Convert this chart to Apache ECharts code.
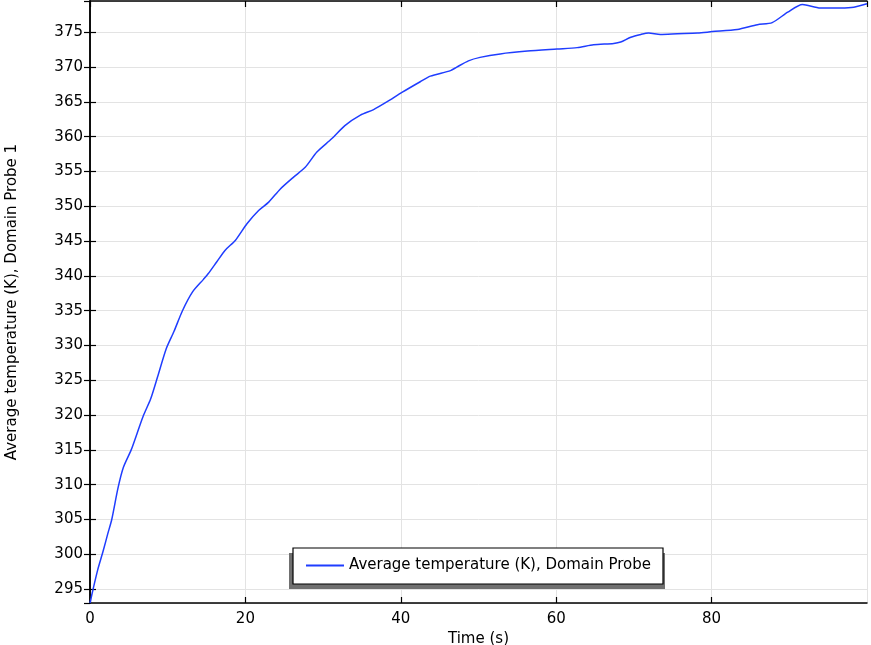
<!DOCTYPE html>
<html>
<head>
<meta charset="utf-8">
<script src="https://cdn.jsdelivr.net/npm/echarts@6/dist/echarts.min.js"></script>
<style>html,body{margin:0;padding:0;background:#fff}#c{width:871px;height:645px}</style>
</head>
<body>
<div id="c"></div>
<script>
const times = [0, 0.4, 1.0, 1.7, 2.3, 2.8, 3.6, 4.3, 5.3, 6.1, 6.9, 7.8, 8.7, 9.8, 10.8, 11.9, 13.2, 14.6, 15.2, 16.3, 17.4, 18.7, 20.2, 21.7, 23.0, 24.5, 26.2, 27.7, 29.2, 31.1, 32.8, 34.8, 36.5, 38.2, 40.2, 42.5, 43.8, 46.4, 47.2, 48.7, 50.2, 52.8, 56.3, 60.1, 62.7, 64.8, 67.4, 68.3, 69.6, 70.9, 71.9, 73.4, 75.6, 78.2, 80.1, 83.3, 85.9, 87.8, 89.8, 91.7, 94.0, 96.6, 98.3, 100];
const temps = [293, 295, 297.8, 300.5, 303, 305, 309.5, 312.5, 315, 317.5, 320, 322.3, 325.5, 329.5, 332, 335, 337.7, 339.5, 340.3, 342, 343.7, 345.1, 347.5, 349.4, 350.6, 352.5, 354.2, 355.6, 357.8, 359.7, 361.6, 363.1, 363.9, 365, 366.4, 367.9, 368.7, 369.5, 370, 370.9, 371.4, 371.9, 372.3, 372.6, 372.8, 373.2, 373.4, 373.6, 374.3, 374.7, 374.9, 374.7, 374.8, 374.9, 375.1, 375.4, 376.1, 376.4, 377.9, 379.0, 378.5, 378.5, 378.6, 379.1];
const seriesName = 'Average temperature (K), Domain Probe 1';
const xTitle = 'Time (s)';
const yTitle = 'Average temperature (K), Domain Probe 1';

const font = 'DejaVu Sans';
const fs = 15;
const blue = '#1f3dff';
const chart = echarts.init(document.getElementById('c'));
const axisLine = {show: true, lineStyle: {color: '#000', width: 1.5}};
const tick = {show: true, inside: true, length: 6, lineStyle: {color: '#000', width: 1.2}};
chart.setOption({
  animation: false,
  textStyle: {fontFamily: font},
  grid: {left: 90, right: 4, top: 1, bottom: 42, containLabel: false, outerBoundsMode: 'none'},
  xAxis: [{
    type: 'value', min: 0, max: 100, interval: 20, position: 'bottom',
    name: xTitle, nameLocation: 'middle', nameGap: 25,
    nameTextStyle: {fontFamily: font, fontSize: fs, color: '#000'},
    axisLine: axisLine, axisTick: tick,
    axisLabel: {color: '#000', fontFamily: font, fontSize: fs, margin: 9, showMaxLabel: false},
    splitLine: {show: true, lineStyle: {color: '#e3e3e3', width: 1}}
  }, {
    type: 'value', min: 0, max: 100, interval: 20, position: 'top',
    axisLine: axisLine, axisTick: tick, axisLabel: {show: false}, splitLine: {show: false}
  }],
  yAxis: [{
    type: 'value', min: 293, max: 379.5, splitNumber: 17, position: 'left',
    name: yTitle, nameLocation: 'middle', nameGap: 70,
    nameTextStyle: {fontFamily: font, fontSize: fs, color: '#000'},
    axisLine: axisLine, axisTick: tick,
    axisLabel: {color: '#000', fontFamily: font, fontSize: fs, margin: 7, showMinLabel: false, showMaxLabel: false},
    splitLine: {show: true, lineStyle: {color: '#e3e3e3', width: 1}}
  }, {
    type: 'value', min: 293, max: 379.5, splitNumber: 17, position: 'right',
    axisLine: axisLine, axisTick: tick, axisLabel: {show: false}, splitLine: {show: false}
  }],
  graphic: [{
    type: 'rect', z: 4, silent: true,
    shape: {x: 289, y: 553, width: 376, height: 36},
    style: {fill: '#707070', stroke: null}
  }, {
    type: 'rect', z: 5, silent: true,
    shape: {x: 293, y: 548, width: 370, height: 36},
    style: {fill: '#fff', stroke: '#000', lineWidth: 1.2}
  }],
  legend: {
    left: 306, top: 558, z: 10,
    orient: 'horizontal',
    padding: 0,
    itemWidth: 38, itemHeight: 2,
    backgroundColor: 'transparent', borderWidth: 0,
    textStyle: {fontFamily: font, fontSize: fs, color: '#000', width: 306, overflow: 'truncate', ellipsis: ''},
    data: [{name: seriesName, icon: 'rect', itemStyle: {color: blue, borderWidth: 0}}]
  },
  series: [{
    name: seriesName, type: 'line', xAxisIndex: 0, yAxisIndex: 0,
    data: times.map((t, i) => [t, temps[i]]),
    symbol: 'none', smooth: 0.25,
    lineStyle: {color: blue, width: 1.5},
    itemStyle: {color: blue}
  }]
});
</script>
</body>
</html>
